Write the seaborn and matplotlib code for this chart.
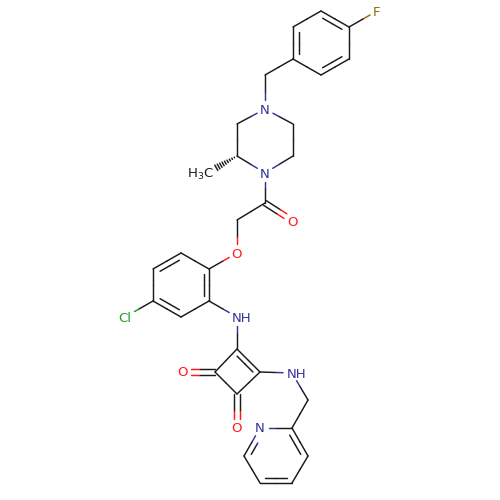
import numpy as np
import pandas as pd
import matplotlib
matplotlib.use('Agg')
import matplotlib.pyplot as plt
import seaborn as sns

# atoms of the molecule, positions (pixels)
atom_x = [377, 349, 321, 293, 293, 321, 349, 265, 265, 293, 293, 265, 237, 237, 209,
          265, 293, 237, 237, 209, 209, 181, 153, 153, 181, 125, 237, 237, 260, 237,
          215, 182, 237, 292, 308, 292, 260, 244, 260, 292, 308]
atom_y = [11, 27, 11, 27, 59, 75, 59, 75, 109, 124, 156, 173, 156, 124, 172,
          203, 221, 220, 253, 269, 301, 317, 301, 269, 253, 317, 317, 349, 372, 394,
          372, 372, 428, 373, 400, 428, 428, 456, 483, 483, 456]
atom_el = ['F', 'C', 'C', 'C', 'C', 'C', 'C', 'C', 'N', 'C', 'C', 'N', 'C', 'C', 'Me',
           'C', 'O', 'C', 'O', 'C', 'C', 'C', 'C', 'C', 'C', 'Cl', 'N', 'C', 'C', 'C',
           'C', 'O', 'O', 'N', 'C', 'C', 'N', 'C', 'C', 'C', 'C']

# single bonds (atom a, atom b)
single_bonds = [(0, 1), (2, 3), (4, 5), (6, 1), (4, 7), (7, 8), (8, 9), (9, 10), (10, 11),
                (11, 12), (12, 13), (13, 8), (11, 15), (15, 17), (17, 18), (18, 19),
                (19, 24), (20, 21), (22, 23), (22, 25), (20, 26), (26, 27), (27, 30),
                (28, 29), (29, 30), (28, 33), (33, 34), (34, 35), (35, 36), (37, 38), (39, 40)]

# double bonds inside a ring (atom a, atom b, atoms of the ring)
benzeno_f = (1, 2, 3, 4, 5, 6)
benzeno_cl = (19, 20, 21, 22, 23, 24)
quadrado = (27, 28, 29, 30)
piridina = (35, 36, 37, 38, 39, 40)
ring_double = [(2, 1, benzeno_f), (3, 4, benzeno_f), (5, 6, benzeno_f),
               (24, 23, benzeno_cl), (19, 20, benzeno_cl), (22, 21, benzeno_cl),
               (27, 28, quadrado),
               (35, 40, piridina), (36, 37, piridina), (38, 39, piridina)]
# carbonyl double bonds
carbonyl = [(15, 16), (30, 31), (29, 32)]

el_color = {'C': '#1a1a1a', 'Me': '#1a1a1a', 'N': '#33339a', 'O': '#ff1a1a', 'F': '#8f6a10', 'Cl': '#17a317'}
el_gap = {'C': 0, 'Me': 9, 'N': 9, 'O': 9, 'F': 8, 'Cl': 11}

pos = np.column_stack([atom_x, atom_y]).astype(float)
rows = []
seg = 0


def add_line(p, q, color):
    global seg
    rows.append({'x': p[0], 'y': p[1], 'seg': seg, 'cor': color})
    rows.append({'x': q[0], 'y': q[1], 'seg': seg, 'cor': color})
    seg += 1


def add_bond(a, b, p=None, q=None):
    # half of the bond in the colour of each atom, with a gap at the labels
    p = pos[a] if p is None else p
    q = pos[b] if q is None else q
    d = (q - p) / np.linalg.norm(q - p)
    mid = (p + q) / 2
    add_line(p + d * el_gap[atom_el[a]], mid, el_color[atom_el[a]])
    add_line(mid, q - d * el_gap[atom_el[b]], el_color[atom_el[b]])


for a, b in single_bonds:
    add_bond(a, b)

for a, b, ring in ring_double:
    add_bond(a, b)
    centro = pos[list(ring)].mean(axis=0)
    d = (pos[b] - pos[a]) / np.linalg.norm(pos[b] - pos[a])
    n = np.array([-d[1], d[0]])
    if np.dot(centro - pos[a], n) < 0:
        n = -n
    off = 5.5 if len(ring) == 6 else 5
    add_bond(a, b, pos[a] + n * off + d * 5, pos[b] + n * off - d * 5)

for a, b in carbonyl:
    d = (pos[b] - pos[a]) / np.linalg.norm(pos[b] - pos[a])
    n = np.array([-d[1], d[0]])
    add_bond(a, b, pos[a] + n * 2.7, pos[b] + n * 2.7)
    add_bond(a, b, pos[a] - n * 2.7, pos[b] - n * 2.7)

# hashed wedge from the ring carbon to the methyl
d = (pos[14] - pos[12]) / np.linalg.norm(pos[14] - pos[12])
n = np.array([-d[1], d[0]])
for t in np.arange(3, 24, 2.6):
    add_line(pos[12] + d * t + n * t * 0.13, pos[12] + d * t - n * t * 0.13, '#1a1a1a')

df = pd.DataFrame(rows)
cores = list(df['cor'].unique())

sns.set_theme(style='white')
plt.rcParams['font.family'] = ['DejaVu Sans']
fig, ax = plt.subplots(figsize=(5, 5), dpi=100)
fig.subplots_adjust(left=0, right=1, top=1, bottom=0)
sns.lineplot(data=df, x='x', y='y', hue='cor', palette={c: c for c in cores}, units='seg',
             estimator=None, sort=False, legend=False, linewidth=1.05, ax=ax,
             solid_capstyle='round')
ax.set_xlim(0, 500)
ax.set_ylim(500, 0)
ax.axis('off')

# labels of the atoms
for i, el in enumerate(atom_el):
    if el in ('F', 'O', 'Cl'):
        ax.text(pos[i, 0], pos[i, 1] + 1, el, color=el_color[el], fontsize=9.5, ha='center', va='center')
    elif el == 'N':
        txt = 'NH' if i in (26, 33) else 'N'
        x = pos[i, 0] - 5 if txt == 'NH' else pos[i, 0]
        ax.text(x, pos[i, 1] + 1, txt, color=el_color[el], fontsize=9.5,
                ha='left' if txt == 'NH' else 'center', va='center')
ax.text(pos[14, 0] + 5, pos[14, 1] + 2, r'H$_3$C', color='#1a1a1a', fontsize=9.5, ha='right', va='center')

fig.savefig('out.png', dpi=100)
